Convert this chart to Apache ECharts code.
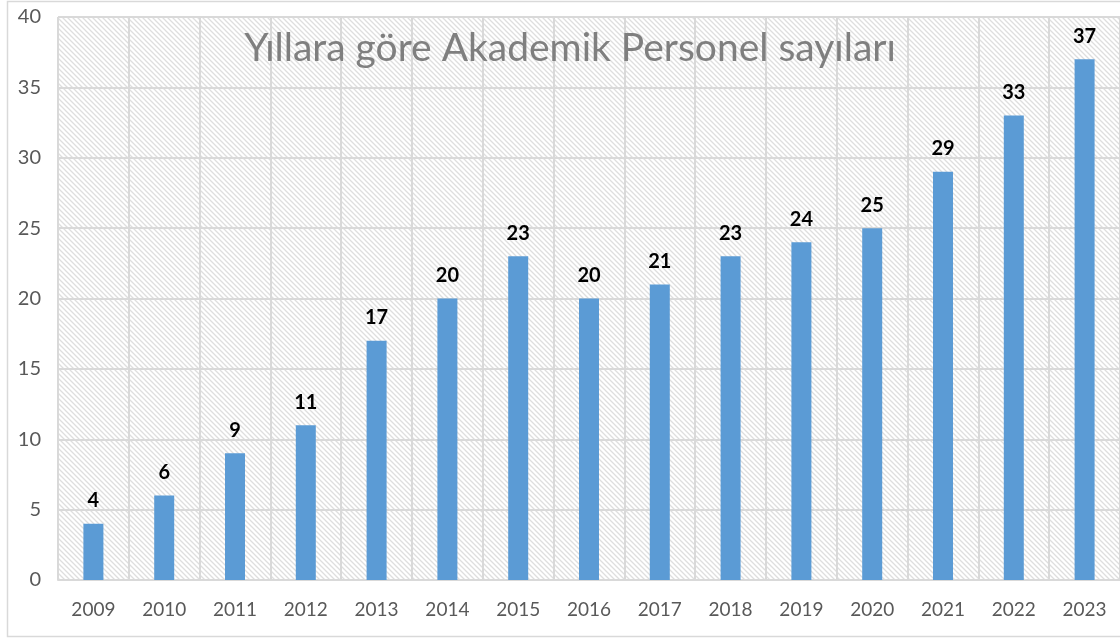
<!DOCTYPE html>
<html>
<head>
<meta charset="utf-8">
<script src="https://cdn.jsdelivr.net/npm/echarts@6/dist/echarts.min.js"></script>
<style>
  html, body { margin: 0; padding: 0; background: #fff; }
  #main { width: 1120px; height: 642px; }
</style>
</head>
<body>
<div id="main"></div>
<script>
const years = ['2009', '2010', '2011', '2012', '2013', '2014', '2015', '2016', '2017', '2018', '2019', '2020', '2021', '2022', '2023'];
const staffCounts = [4, 6, 9, 11, 17, 20, 23, 20, 21, 23, 24, 25, 29, 33, 37];
const chartTitle = 'Yıllara göre Akademik Personel sayıları';

// diagonal hatch for the plot background
const hatch = document.createElement('canvas');
hatch.width = 5;
hatch.height = 5;
const ctx = hatch.getContext('2d');
ctx.fillStyle = '#ffffff';
ctx.fillRect(0, 0, 5, 5);
ctx.strokeStyle = '#dedede';
ctx.lineWidth = 1.3;
ctx.beginPath();
ctx.moveTo(-1, -1); ctx.lineTo(6, 6);
ctx.moveTo(-6, -1); ctx.lineTo(1, 6);
ctx.moveTo(4, -1); ctx.lineTo(11, 6);
ctx.stroke();

const myChart = echarts.init(document.getElementById('main'));

const option = {
  animation: false,
  textStyle: { fontFamily: 'Lato' },
  graphic: [
    {
      type: 'rect',
      shape: { x: 7.5, y: 1.5, width: 1130, height: 635 },
      style: { fill: 'none', stroke: '#d9d9d9', lineWidth: 1.5 },
      z: -10
    }
  ],
  title: {
    text: chartTitle,
    left: 565,
    top: 24,
    textAlign: 'center',
    textStyle: { color: '#7f7f7f', fontSize: 39, fontWeight: 'normal', fontFamily: 'Lato' }
  },
  grid: {
    left: 58,
    right: -3,
    top: 17,
    bottom: 62,
    show: true,
    borderWidth: 0,
    backgroundColor: { image: hatch, repeat: 'repeat' }
  },
  xAxis: {
    type: 'category',
    data: years,
    axisTick: { show: false },
    axisLine: { lineStyle: { color: '#d9d9d9', width: 2 } },
    axisLabel: { color: '#595959', fontSize: 19, margin: 20 },
    splitLine: { show: true, interval: 0, lineStyle: { color: '#d9d9d9', width: 2 } }
  },
  yAxis: {
    type: 'value',
    min: 0,
    max: 40,
    interval: 5,
    axisLabel: { color: '#595959', fontSize: 20, margin: 17, align: 'right' },
    splitLine: { lineStyle: { color: '#d9d9d9', width: 2 } },
    axisLine: { show: false },
    axisTick: { show: false }
  },
  series: [
    {
      type: 'bar',
      data: staffCounts,
      barWidth: 20,
      itemStyle: { color: '#5b9bd5' },
      label: {
        show: true,
        position: 'top',
        distance: 13,
        color: '#000000',
        fontWeight: 'bold',
        fontSize: 20,
        fontFamily: 'Lato'
      }
    }
  ]
};

option && myChart.setOption(option);
</script>
</body>
</html>
